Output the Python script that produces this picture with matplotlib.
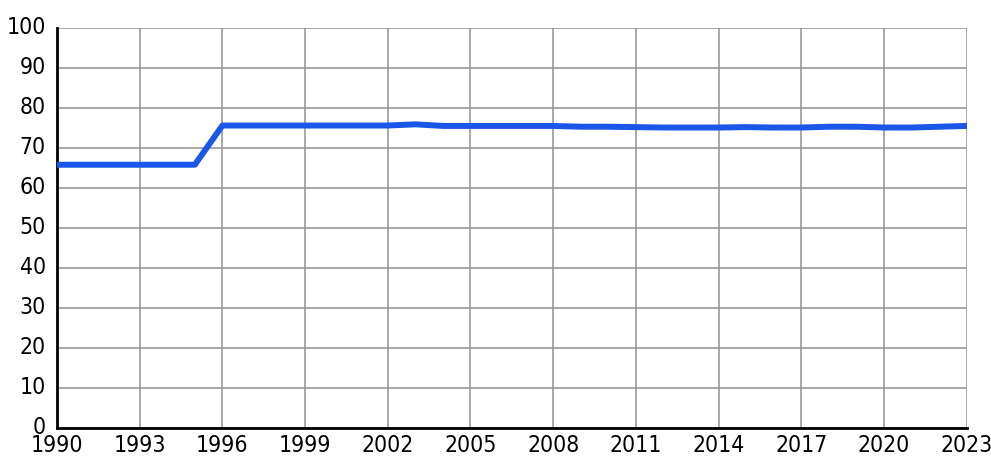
import matplotlib.pyplot as plt
import matplotlib.transforms as mtransforms

plt.rcParams['font.family'] = ['DejaVu Sans']
plt.rcParams['font.stretch'] = 'condensed'

years = list(range(1990, 2024))
values = [65.8, 65.8, 65.8, 65.8, 65.8, 65.8,
          75.6, 75.6, 75.6, 75.6, 75.6, 75.6, 75.6, 75.9,
          75.5, 75.5, 75.5, 75.5, 75.5, 75.3, 75.3, 75.2,
          75.1, 75.1, 75.1, 75.2, 75.1, 75.1, 75.3, 75.3,
          75.1, 75.1, 75.3, 75.5]
xticks = list(range(1990, 2024, 3))
yticks = list(range(0, 101, 10))

fig = plt.figure(figsize=(9.91, 4.62), dpi=100)
ax = fig.add_axes([0.0575, 0.0736, 0.918, 0.866])
ax.plot(years, values, color="#1a56e8", linewidth=4.3, solid_capstyle="round", zorder=3)

ax.set_xlim(1990, 2023)
ax.set_ylim(0, 100)
ax.set_xticks(xticks)
ax.set_yticks(yticks)
ax.grid(True, color="#999999", linewidth=1.2)
ax.tick_params(length=0, labelsize=16.5)
ax.tick_params(axis="y", pad=8)
ax.tick_params(axis="x", pad=4)
for s in ["top", "right"]:
    ax.spines[s].set_visible(False)
for s in ["left", "bottom"]:
    ax.spines[s].set_linewidth(2)
    ax.spines[s].set_color("black")

# y labels sit a little above their grid lines
shift = mtransforms.ScaledTranslation(0, 3 / 100, fig.dpi_scale_trans)
for lbl in ax.get_yticklabels():
    lbl.set_transform(lbl.get_transform() + shift)

fig.savefig("out.png", dpi=100)
